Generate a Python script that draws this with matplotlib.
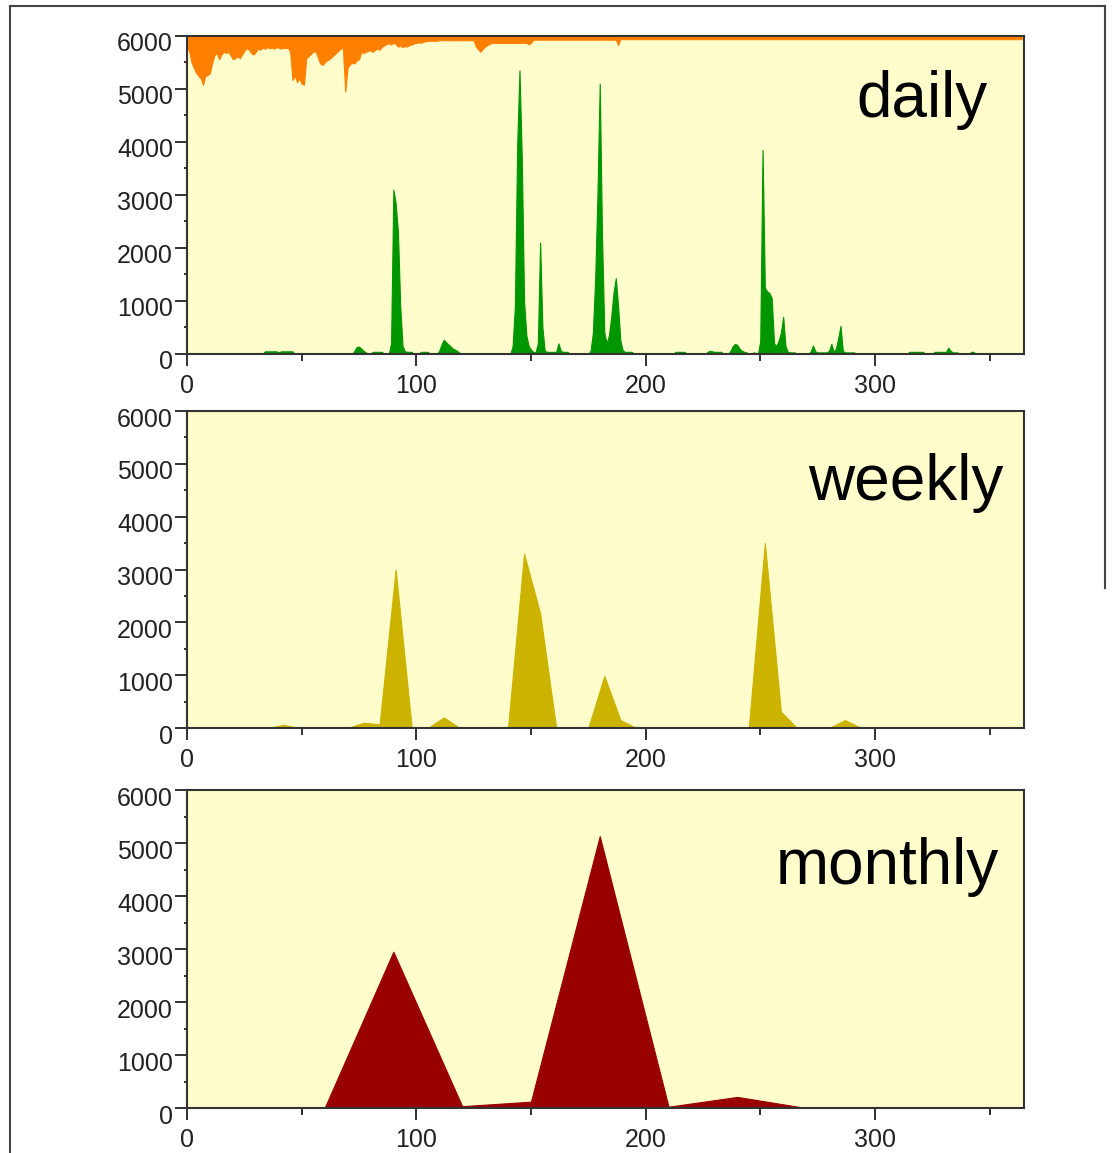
import matplotlib.pyplot as plt
import numpy as np
from matplotlib.lines import Line2D
from matplotlib.ticker import MultipleLocator
import matplotlib.transforms as mtransforms

plt.rcParams['font.family'] = ['Liberation Sans', 'DejaVu Sans']

# daily values, day 0..364
daily = ([0] * 34 + [50] * 6 + [30] + [50] * 6 + [0] * 26
         + [60, 130, 140, 100, 60, 30, 0, 0, 40, 40, 40, 40, 40, 0, 0, 0]
         + [200, 3100, 2850, 2300, 900, 150, 50, 40, 40, 40, 0, 0, 0, 40, 40, 40, 40, 0, 0, 0, 0]
         + [60, 180, 270, 220, 180, 140, 100, 80, 50, 20]
         + [0] * 22
         + [150, 900, 3950, 5350, 3700, 1000, 350, 150, 80, 40, 30]
         + [200, 2100, 500, 60, 40, 40, 40, 40, 40, 200, 60, 40, 40, 40]
         + [0] * 9
         + [60, 400, 1400, 3000, 5100, 2200, 400, 200, 350, 700, 1150, 1430, 900, 250, 70, 40, 40, 40, 40]
         + [0] * 18 + [40] * 5 + [0] * 9
         + [40, 60, 50, 40, 40, 40, 40, 0, 0, 0]
         + [60, 150, 190, 170, 100, 60, 40, 30, 0, 0, 30, 20, 0]
         + [250, 3850, 1250, 1180, 1150, 1050, 200, 150, 250, 400, 700, 150, 40, 30, 30, 30]
         + [0] * 6
         + [50, 160, 50, 30, 30, 30, 30, 30, 60, 190, 40, 100, 300, 530, 60, 30, 30, 30, 30, 30]
         + [0] * 23 + [40] * 7 + [0] * 4 + [40] * 6 + [120, 60, 30, 30, 30]
         + [0] * 5 + [40, 40] + [0] * 21)

# lower edge of the orange band hanging from the top (day 0..364)
daily_top = ([5800, 5700, 5500, 5400, 5300, 5250, 5200, 5080, 5250, 5260,
              5300, 5500, 5640, 5680, 5560, 5650, 5700, 5680, 5700, 5640,
              5560, 5580, 5620, 5580, 5650, 5720, 5770, 5740, 5680, 5650,
              5700, 5760, 5740, 5780, 5760, 5790, 5770, 5780, 5760, 5790,
              5780, 5760, 5780, 5770, 5780, 5700, 5170, 5250, 5130, 5200,
              5100, 5080, 5580, 5620, 5660, 5700, 5720, 5600, 5490, 5450,
              5500, 5540, 5560, 5600, 5640, 5680, 5720, 5760, 5780, 4950,
              5400, 5460, 5500, 5480, 5540, 5560, 5700, 5680, 5700, 5720,
              5730, 5700, 5740, 5760, 5740, 5800, 5820, 5850, 5860, 5840,
              5870, 5850, 5800, 5820, 5790, 5810, 5800, 5830, 5840, 5860,
              5870, 5880, 5870, 5890, 5900, 5910, 5910, 5910, 5910, 5910]
             + [5920] * 16
             + [5800, 5750, 5700, 5760, 5800, 5830, 5850]
             + [5870] * 16 + [5840, 5870]
             + [5930] * 37 + [5830] + [5940] * 176)

weekly_days = [0, 7, 14, 21, 28, 35, 42, 49, 56, 63, 70, 77, 84, 91, 98, 105, 112, 119,
               126, 133, 140, 147, 154, 161, 168, 175, 182, 189, 196, 203, 210, 217,
               224, 231, 238, 245, 252, 259, 266, 273, 280, 287, 294, 301, 308, 315,
               322, 329, 336, 343, 350, 357, 364]
weekly = [0, 0, 0, 0, 0, 0, 60, 0, 0, 0, 0, 100, 70, 3000, 0, 0, 200, 0,
          0, 0, 0, 3300, 2170, 0, 0, 0, 985, 150, 0, 0, 0, 0,
          0, 0, 0, 0, 3500, 310, 0, 0, 0, 150, 0, 0, 0, 0,
          0, 0, 0, 0, 0, 0, 0]

monthly_days = [0, 30, 60, 90, 120, 150, 180, 210, 240, 270, 300, 330, 360]
monthly = [0, 0, 0, 2950, 35, 120, 5130, 25, 210, 0, 0, 0, 0]

labels = ['daily', 'weekly', 'monthly']
fill_colors = ['#009600', '#CCB300', '#990000']
top_color = '#FF8000'
bg = '#FFFDCB'

fig = plt.figure(figsize=(11.17, 11.53), dpi=100)

rects = [[0.1674, 0.6930, 0.7493, 0.2758],
         [0.1674, 0.3686, 0.7493, 0.2749],
         [0.1674, 0.0390, 0.7493, 0.2758]]
label_pos = [(0.956, 0.746), (0.975, 0.719), (0.970, 0.704)]

series = [(np.arange(365), daily), (weekly_days, weekly), (monthly_days, monthly)]

for i, ax_rect in enumerate(rects):
    ax = fig.add_axes(ax_rect)
    ax.set_facecolor(bg)
    x, y = series[i]
    if i == 0:
        ax.fill_between(np.arange(365), daily_top, 6000, color=top_color, lw=0.8)
    ax.fill_between(x, 0, y, color=fill_colors[i], lw=0.8)
    ax.set_xlim(0, 365)
    ax.set_ylim(0, 6000)
    ax.xaxis.set_major_locator(MultipleLocator(100))
    ax.xaxis.set_minor_locator(MultipleLocator(50))
    ax.yaxis.set_major_locator(MultipleLocator(1000))
    ax.yaxis.set_minor_locator(MultipleLocator(500))
    ax.tick_params(which='major', length=8.5, width=1.3, color='#222',
                   labelsize=18, labelcolor='#222', pad=1.5)
    ax.tick_params(axis='x', which='major', pad=6)
    ax.tick_params(axis='x', which='minor', length=5, width=1.3, color='#222')
    ax.tick_params(axis='y', which='minor', length=2.5, width=1.3, color='#222')
    for s in ax.spines.values():
        s.set_color('#333')
        s.set_linewidth(1.5)
    off = mtransforms.ScaledTranslation(0, -6 / 100, fig.dpi_scale_trans)
    for lab in ax.get_yticklabels():
        lab.set_transform(lab.get_transform() + off)
    ax.text(label_pos[i][0], label_pos[i][1], labels[i], transform=ax.transAxes,
            ha='right', va='baseline', fontsize=46, color='black')

# outer frame of the screenshot
W, H = 1117, 1153
fl = 10 / W
ft = 1 - 6 / H
fr = 1105 / W
fig.add_artist(Line2D([fl, fl], [0, ft], color='#444', lw=1.5))
fig.add_artist(Line2D([fl, fr], [ft, ft], color='#444', lw=1.5))
fig.add_artist(Line2D([fr, fr], [ft, 1 - 588 / H], color='#444', lw=1.5))

fig.savefig('out.png', dpi=100)
